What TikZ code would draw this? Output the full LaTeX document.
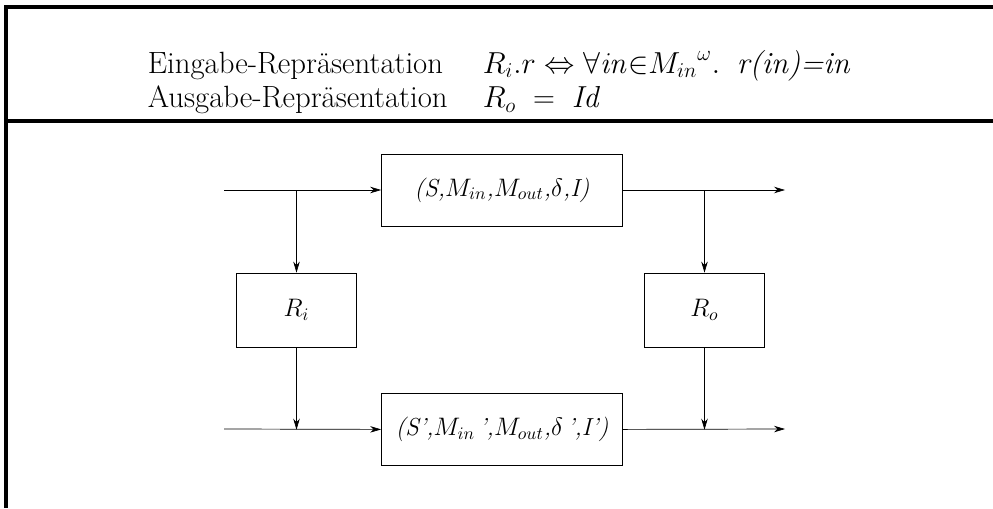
\documentclass[tikz,border=0pt]{standalone}
\usepackage{amsmath}
\usepackage{tikz}
\usetikzlibrary{arrows.meta,positioning}

\begin{document}
\begin{tikzpicture}[>={Stealth[length=2.2mm,width=1.3mm,inset=0.7mm]}, thin,
    frame/.style={line width=2.2pt},
    sysbox/.style={draw, minimum width=4.82cm, minimum height=1.44cm, inner sep=1pt, font=\fontsize{14}{17}\selectfont\itshape},
    repbox/.style={draw, minimum width=2.4cm, minimum height=1.48cm, inner sep=1pt, font=\fontsize{14}{17}\selectfont},
    lab/.style={anchor=base west, inner sep=0pt, font=\fontsize{17.5}{21}\selectfont}]
    \useasboundingbox (0,0) rectangle (19.86,-10.16);
    % frame
    \coordinate (tl) at (0.12,-0.14);
    \coordinate (tr) at (19.86,-0.14);
    \coordinate (bl) at (0.12,-10.16);
    \coordinate (ml) at (0.12,-2.42);
    \coordinate (mr) at (19.86,-2.42);
    \draw[frame] (tr) -- (tl) -- (bl);
    \draw[frame] (ml) -- (mr);
    % header
    \node[lab] (ein) at (2.95,-1.46) {Eingabe-Repr\"asentation};
    \node[lab] (aus) at (2.95,-2.15) {Ausgabe-Repr\"asentation};
    \node[lab] (einr) at (9.65,-1.46) {$R_i.r \Leftrightarrow \forall \mathit{in}{\in}{M_{in}}^{\omega}.\;\;$\textit{r(in)=in}};
    \node[lab] (ausr) at (9.65,-2.15) {$R_o\;=\;\mathit{Id}$};
    % diagram
    \node[sysbox] (sys) at (10.04,-3.8) {(S,$M_{in}$,$M_{out}$,$\delta$,I)};
    \node[sysbox] (sysp) [below=3.34cm of sys] {(S',$M_{in}$\,',$M_{out}$,$\delta$\,',I')};
    \node[repbox] (ri) at (5.93,-6.2) {$R_i$};
    \node[repbox] (ro) at (14.09,-6.2) {$R_o$};
    \coordinate (in1) at (4.48,-3.8);
    \coordinate (in2) at (4.48,-8.58);
    \coordinate (out1) at (15.7,-3.8);
    \coordinate (out2) at (15.7,-8.58);
    \draw[->] (in1) -- (sys);
    \draw[->] (in2) -- (sysp);
    \draw[->] (sys) -- (out1);
    \draw[->] (sysp) -- (out2);
    \draw[->] (ri |- sys) -- (ri);
    \draw[->] (ri) -- (ri |- sysp);
    \draw[->] (ro |- sys) -- (ro);
    \draw[->] (ro) -- (ro |- sysp);
  \end{tikzpicture}
\end{document}
